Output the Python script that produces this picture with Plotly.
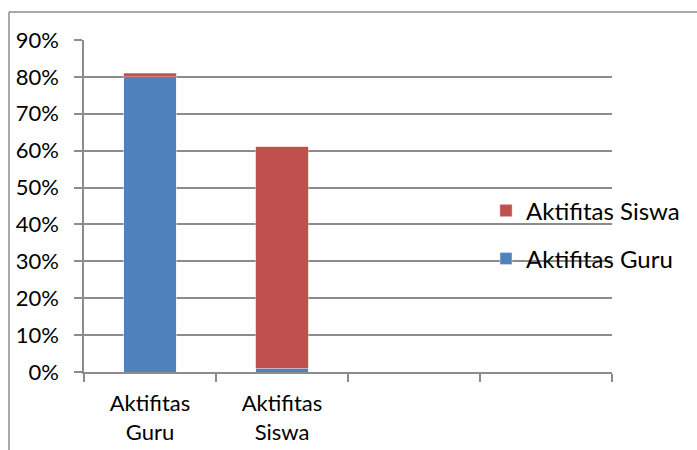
import plotly.graph_objects as go

categories = ["Aktifitas<br>Guru", "Aktifitas<br>Siswa", " ", "  "]
guru_vals = [0.80, 0.01, None, None]
siswa_vals = [0.01, 0.60, None, None]
y_ticks = [0, 0.1, 0.2, 0.3, 0.4, 0.5, 0.6, 0.7, 0.8, 0.9]

BLUE = "#4F81BD"
RED = "#C0504D"
GRID = "#8C8C8C"
FONT = "Lato"
FS = 22

L, R, T, B = 84, 85, 40, 78
W, H = 697, 450
pw, ph = W - L - R, H - T - B

def px(x):
    return (x - L) / pw

def py(y):
    return (H - B - y) / ph

fig = go.Figure()
fig.add_trace(go.Bar(x=categories, y=guru_vals, name="Aktifitas Guru",
                     marker=dict(color=BLUE), legend="legend2", showlegend=True))
fig.add_trace(go.Bar(x=categories, y=siswa_vals, name="Aktifitas Siswa",
                     marker=dict(color=RED, line=dict(color="#E8B4B3", width=0.5)),
                     legend="legend", showlegend=True))

fig.update_layout(
    width=W, height=H,
    margin=dict(l=L, r=R, t=T, b=B, pad=0, autoexpand=False),
    barmode="stack", bargap=0.6,
    showlegend=True,
    plot_bgcolor="white", paper_bgcolor="white",
    font=dict(family=FONT, size=FS, color="black"),
    legend=dict(x=px(486), y=py(211), xanchor="left", yanchor="middle",
                bgcolor="rgba(0,0,0,0)", font=dict(size=24), itemwidth=30),
    legend2=dict(x=px(486), y=py(259), xanchor="left", yanchor="middle",
                 bgcolor="rgba(0,0,0,0)", font=dict(size=24), itemwidth=30),
    xaxis=dict(type="category", categoryorder="array", categoryarray=categories,
               range=[-0.5, 3.5], showline=True, linecolor=GRID, linewidth=1.5,
               ticks="outside", tickson="boundaries", ticklen=8, tickcolor=GRID,
               tickwidth=1.5, showgrid=False, tickfont=dict(size=FS),
               ticklabelstandoff=11, automargin=False),
    yaxis=dict(range=[0, 0.9], tickvals=y_ticks, tickformat=".0%",
               showgrid=True, gridcolor=GRID, gridwidth=1.5,
               showline=True, linecolor=GRID, linewidth=1.5,
               ticks="outside", ticklen=8, tickcolor=GRID, tickwidth=1.5,
               zeroline=False, ticklabelstandoff=11, tickfont=dict(size=FS),
               automargin=False),
    shapes=[
        dict(type="line", xref="paper", yref="paper",
             x0=px(9), x1=px(9), y0=py(12), y1=py(452),
             line=dict(color="#8C8C8C", width=1.5)),
        dict(type="line", xref="paper", yref="paper",
             x0=px(9), x1=px(699), y0=py(12), y1=py(12),
             line=dict(color="#8C8C8C", width=1.5)),
    ],
)

fig.write_html("out.html")
